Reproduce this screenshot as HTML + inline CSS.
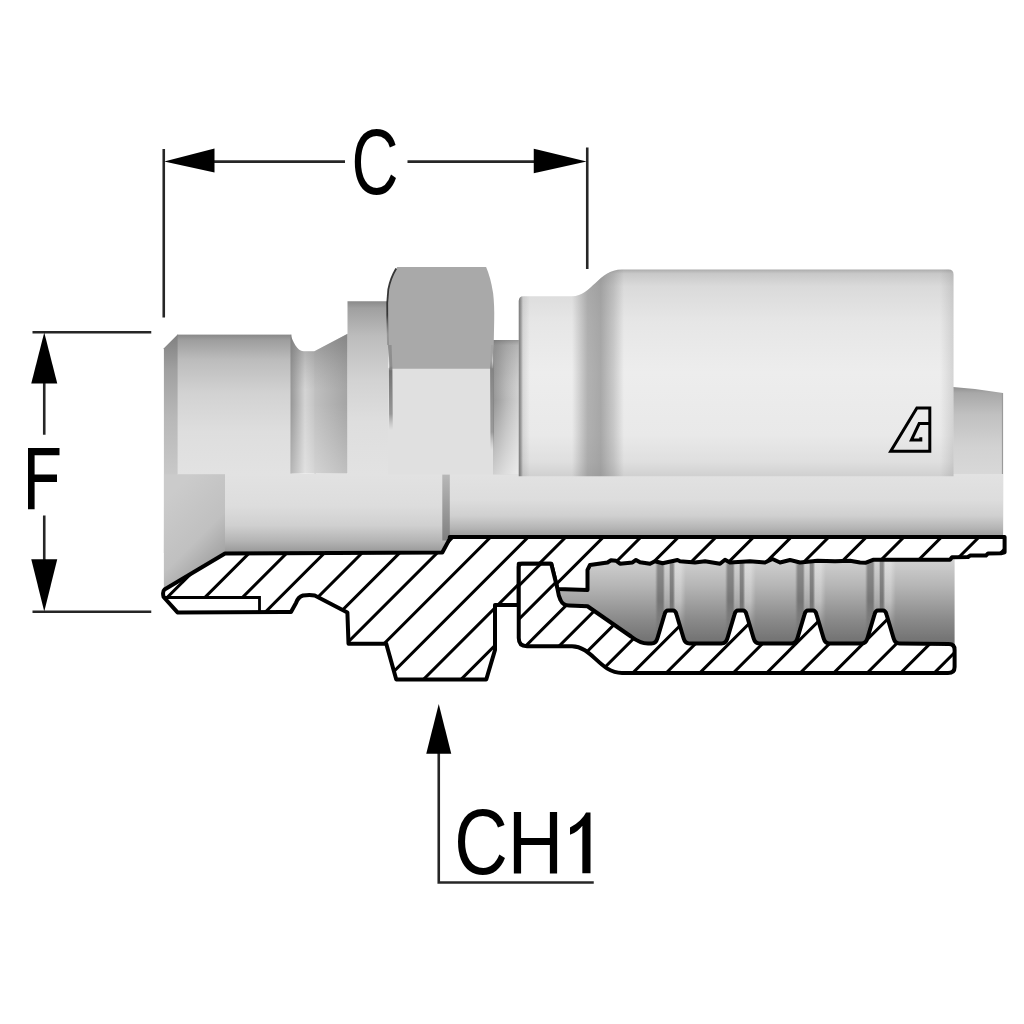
<!DOCTYPE html>
<html><head><meta charset="utf-8"><title>Fitting</title>
<style>
html,body{margin:0;padding:0;background:#fff;}
svg{display:block;font-family:"Liberation Sans",sans-serif;}
</style></head>
<body>
<svg width="1024" height="1024" viewBox="0 0 1024 1024">
<defs>
<filter id="soft" filterUnits="userSpaceOnUse" x="0" y="0" width="1024" height="1024"><feGaussianBlur stdDeviation="0.65"/></filter>
<linearGradient id="gBody" gradientUnits="userSpaceOnUse" x1="0" y1="334.60" x2="0" y2="474.00"><stop offset="0.000" stop-color="#888888"/><stop offset="0.040" stop-color="#9e9e9e"/><stop offset="0.180" stop-color="#bcbcbc"/><stop offset="0.420" stop-color="#d2d2d2"/><stop offset="0.700" stop-color="#dedede"/><stop offset="1.000" stop-color="#e2e2e2"/></linearGradient>
<linearGradient id="gCham" gradientUnits="userSpaceOnUse" x1="0" y1="334.60" x2="0" y2="474.00"><stop offset="0.000" stop-color="#808080"/><stop offset="0.250" stop-color="#a0a0a0"/><stop offset="0.600" stop-color="#b8b8b8"/><stop offset="1.000" stop-color="#c8c8c8"/></linearGradient>
<linearGradient id="gCollar" gradientUnits="userSpaceOnUse" x1="0" y1="301.25" x2="0" y2="474.00"><stop offset="0.000" stop-color="#8a8a8a"/><stop offset="0.040" stop-color="#a0a0a0"/><stop offset="0.200" stop-color="#bcbcbc"/><stop offset="0.450" stop-color="#d2d2d2"/><stop offset="0.700" stop-color="#dedede"/><stop offset="1.000" stop-color="#e2e2e2"/></linearGradient>
<linearGradient id="gGr1" gradientUnits="userSpaceOnUse" x1="291.00" y1="0" x2="314.30" y2="0"><stop offset="0.000" stop-color="#989898"/><stop offset="0.250" stop-color="#b0b0b0"/><stop offset="0.600" stop-color="#d4d4d4"/><stop offset="1.000" stop-color="#c4c4c4"/></linearGradient>
<linearGradient id="gGr2" gradientUnits="userSpaceOnUse" x1="314.30" y1="0" x2="347.50" y2="0"><stop offset="0.000" stop-color="#c0c0c0"/><stop offset="1.000" stop-color="#a4a4a4"/></linearGradient>
<linearGradient id="gLight" gradientUnits="userSpaceOnUse" x1="0" y1="334.00" x2="0" y2="474.00"><stop offset="0.000" stop-color="#606060" stop-opacity="0.450"/><stop offset="0.120" stop-color="#606060" stop-opacity="0.300"/><stop offset="0.400" stop-color="#808080" stop-opacity="0.000"/><stop offset="0.500" stop-color="#fff" stop-opacity="0.000"/><stop offset="1.000" stop-color="#fff" stop-opacity="0.300"/></linearGradient>
<linearGradient id="gBore" gradientUnits="userSpaceOnUse" x1="0" y1="474.00" x2="0" y2="553.00"><stop offset="0.000" stop-color="#e2e2e2"/><stop offset="0.400" stop-color="#dddddd"/><stop offset="0.650" stop-color="#d0d0d0"/><stop offset="0.850" stop-color="#b4b4b4"/><stop offset="1.000" stop-color="#969696"/></linearGradient>
<linearGradient id="gBore2" gradientUnits="userSpaceOnUse" x1="0" y1="474.00" x2="0" y2="538.00"><stop offset="0.000" stop-color="#e2e2e2"/><stop offset="0.400" stop-color="#dddddd"/><stop offset="0.650" stop-color="#d0d0d0"/><stop offset="0.850" stop-color="#b4b4b4"/><stop offset="1.000" stop-color="#969696"/></linearGradient>
<linearGradient id="gWall" gradientUnits="userSpaceOnUse" x1="0" y1="474.00" x2="0" y2="540.00"><stop offset="0.000" stop-color="#b8b8b8"/><stop offset="1.000" stop-color="#808080"/></linearGradient>
<linearGradient id="gCone" gradientUnits="userSpaceOnUse" x1="165" y1="500" x2="225" y2="560"><stop offset="0" stop-color="#cbcbcb"/><stop offset="0.6" stop-color="#c0c0c0"/><stop offset="1" stop-color="#9e9e9e"/></linearGradient>
<linearGradient id="gStep" gradientUnits="userSpaceOnUse" x1="493.50" y1="0" x2="519.00" y2="0"><stop offset="0.000" stop-color="#969696"/><stop offset="0.500" stop-color="#b8b8b8"/><stop offset="1.000" stop-color="#d2d2d2"/></linearGradient>
<linearGradient id="gStepV" gradientUnits="userSpaceOnUse" x1="0" y1="340.00" x2="0" y2="474.00"><stop offset="0.000" stop-color="#666" stop-opacity="0.550"/><stop offset="0.040" stop-color="#777" stop-opacity="0.300"/><stop offset="0.250" stop-color="#888" stop-opacity="0.100"/><stop offset="0.450" stop-color="#fff" stop-opacity="0.000"/><stop offset="1.000" stop-color="#fff" stop-opacity="0.550"/></linearGradient>
<linearGradient id="gFer" gradientUnits="userSpaceOnUse" x1="0" y1="269.50" x2="0" y2="476.25"><stop offset="0.000" stop-color="#acacac"/><stop offset="0.020" stop-color="#c8c8c8"/><stop offset="0.080" stop-color="#dadada"/><stop offset="0.250" stop-color="#e6e6e6"/><stop offset="0.500" stop-color="#ededed"/><stop offset="0.800" stop-color="#e9e9e9"/><stop offset="0.930" stop-color="#dfdfdf"/><stop offset="1.000" stop-color="#d0d0d0"/></linearGradient>
<linearGradient id="gFerBand" gradientUnits="userSpaceOnUse" x1="572.00" y1="0" x2="624.00" y2="0"><stop offset="0.000" stop-color="#777" stop-opacity="0.000"/><stop offset="0.300" stop-color="#777" stop-opacity="0.500"/><stop offset="0.550" stop-color="#777" stop-opacity="0.580"/><stop offset="0.800" stop-color="#777" stop-opacity="0.300"/><stop offset="1.000" stop-color="#777" stop-opacity="0.000"/></linearGradient>
<linearGradient id="gFerL" gradientUnits="userSpaceOnUse" x1="518.50" y1="0" x2="530.00" y2="0"><stop offset="0.000" stop-color="#505050" stop-opacity="0.750"/><stop offset="0.220" stop-color="#606060" stop-opacity="0.550"/><stop offset="0.400" stop-color="#888" stop-opacity="0.200"/><stop offset="1.000" stop-color="#888" stop-opacity="0.000"/></linearGradient>
<linearGradient id="gFerR" gradientUnits="userSpaceOnUse" x1="940.00" y1="0" x2="953.50" y2="0"><stop offset="0.000" stop-color="#888" stop-opacity="0.000"/><stop offset="1.000" stop-color="#888" stop-opacity="0.250"/></linearGradient>
<linearGradient id="gHose" gradientUnits="userSpaceOnUse" x1="0" y1="387.00" x2="0" y2="538.00"><stop offset="0.000" stop-color="#909090"/><stop offset="0.040" stop-color="#a8a8a8"/><stop offset="0.180" stop-color="#c0c0c0"/><stop offset="0.400" stop-color="#d2d2d2"/><stop offset="0.700" stop-color="#dcdcdc"/><stop offset="1.000" stop-color="#e0e0e0"/></linearGradient>
<linearGradient id="gCav" gradientUnits="userSpaceOnUse" x1="0" y1="560.00" x2="0" y2="645.00"><stop offset="0.000" stop-color="#d0d0d0"/><stop offset="0.300" stop-color="#b6b6b6"/><stop offset="0.700" stop-color="#8a8a8a"/><stop offset="1.000" stop-color="#6e6e6e"/></linearGradient>
<linearGradient id="gNutL" gradientUnits="userSpaceOnUse" x1="0" y1="270.00" x2="0" y2="430.00"><stop offset="0.000" stop-color="#222" stop-opacity="0.900"/><stop offset="0.280" stop-color="#2a2a2a" stop-opacity="0.900"/><stop offset="0.400" stop-color="#777" stop-opacity="0.500"/><stop offset="0.600" stop-color="#777" stop-opacity="0.550"/><stop offset="0.630" stop-color="#666" stop-opacity="0.900"/><stop offset="0.900" stop-color="#777" stop-opacity="0.700"/><stop offset="1.000" stop-color="#999" stop-opacity="0.000"/></linearGradient>
<linearGradient id="gNutR" gradientUnits="userSpaceOnUse" x1="0" y1="270.00" x2="0" y2="450.00"><stop offset="0.000" stop-color="#999" stop-opacity="0.300"/><stop offset="0.500" stop-color="#999" stop-opacity="0.400"/><stop offset="0.550" stop-color="#7a7a7a" stop-opacity="0.900"/><stop offset="0.900" stop-color="#888" stop-opacity="0.800"/><stop offset="1.000" stop-color="#aaa" stop-opacity="0.000"/></linearGradient>
<clipPath id="cFer"><path d="M518.75 301 Q518.75 296.25 523.5 296.25 L572 296.25 C592 296.25 598 269.5 622 269.5 L948.5 269.5 Q953.5 269.5 953.5 274.5 L953.5 476.25 L518.75 476.25Z"/></clipPath>
<linearGradient id="gTooth" x1="0" y1="0" x2="1" y2="0"><stop offset="0" stop-color="#484848" stop-opacity="0"/><stop offset="0.09" stop-color="#484848" stop-opacity="0"/><stop offset="0.16" stop-color="#484848" stop-opacity="0.5"/><stop offset="0.29" stop-color="#484848" stop-opacity="0.5"/><stop offset="0.36" stop-color="#fff" stop-opacity="0.1"/><stop offset="0.42" stop-color="#fff" stop-opacity="0.1"/><stop offset="0.47" stop-color="#484848" stop-opacity="0.5"/><stop offset="0.54" stop-color="#484848" stop-opacity="0.5"/><stop offset="0.60" stop-color="#fff" stop-opacity="0.32"/><stop offset="0.72" stop-color="#fff" stop-opacity="0.32"/><stop offset="0.86" stop-color="#fff" stop-opacity="0"/><stop offset="1" stop-color="#fff" stop-opacity="0"/></linearGradient>
<linearGradient id="gToothFade" gradientUnits="userSpaceOnUse" x1="0" y1="556.00" x2="0" y2="646.00"><stop offset="0.000" stop-color="#fff" stop-opacity="1.000"/><stop offset="0.500" stop-color="#fff" stop-opacity="1.000"/><stop offset="0.750" stop-color="#fff" stop-opacity="0.350"/><stop offset="1.000" stop-color="#fff" stop-opacity="0.000"/></linearGradient>
<mask id="mTooth" maskUnits="userSpaceOnUse" x="550" y="550" width="420" height="100"><rect x="550" y="550" width="420" height="100" fill="url(#gToothFade)"/></mask>
<clipPath id="cIns"><path d="M164.5 589.5 L225 553.5 L442.3 552.5 L449.8 538.6 L449.8 537 L1004.6 537 L1004.60 552.30 L1001.00 553.20 L988.00 553.60 L986.00 555.40 L970.00 555.60 L968.00 557.00 L952.00 557.20 L950.00 559.80 L873.00 559.80 L866.00 562.70 L860.00 562.45 L850.00 560.70 L835.00 561.20 L817.50 560.70 L800.00 562.45 L790.00 559.95 L780.00 562.45 L772.50 559.00 L765.00 562.45 L750.00 561.20 L730.00 562.45 L725.00 559.70 L720.00 563.70 L705.00 561.20 L695.00 562.45 L680.00 561.20 L677.50 559.95 L662.50 563.20 L655.00 561.20 L650.00 563.70 L640.00 562.20 L636.00 559.95 L632.50 562.45 L620.00 563.70 L616.00 560.70 L611.00 560.20 L607.50 562.45 L590.00 564.95 L587.50 570.00 L587.50 590.00 L557.5 589 L551.25 563.75 L518.75 563.75 L518.75 605 L495 605 L495 650 L486.25 679.5 L396.25 679.5 L386.25 643.75 L348.5 643.75 L347.4 612.5 L314.75 595.5 Q310 594.5 303 595.5 Q298 597 296 603 L291 612 L177.5 612.4 L163.6 597 Q162.2 591.5 164.5 589.5Z"/></clipPath>
<clipPath id="cFerS"><path d="M522 563.75 L551.25 563.75 L557.5 589 Q558.5 596 560.5 600 Q563 605.5 569 605.5 L587.5 606.25 L631 636.5 Q640 643.5 648 643.5 L651.50 643.5 Q656.00 643.5 657.50 638 L664.50 614.5 Q665.50 610.5 668.00 610.5 L673.00 610.5 Q675.50 610.5 676.50 614.5 L683.50 638 Q685.00 643.5 689.50 643.5 L721.50 643.5 Q726.00 643.5 727.50 638 L734.50 614.5 Q735.50 610.5 738.00 610.5 L743.00 610.5 Q745.50 610.5 746.50 614.5 L753.50 638 Q755.00 643.5 759.50 643.5 L791.50 643.5 Q796.00 643.5 797.50 638 L804.50 614.5 Q805.50 610.5 808.00 610.5 L813.00 610.5 Q815.50 610.5 816.50 614.5 L823.50 638 Q825.00 643.5 829.50 643.5 L861.50 643.5 Q866.00 643.5 867.50 638 L874.50 614.5 Q875.50 610.5 878.00 610.5 L883.00 610.5 Q885.50 610.5 886.50 614.5 L893.50 638 Q895.00 643.5 899.50 643.5 L949 644 Q954.6 644 954.6 650 L954.6 667 Q954.6 673 948 673 L622 673 C600 673 592 646.25 572 646.25 L527 646.25 Q518.75 646.25 518.75 638 L518.75 567 Q518.75 563.75 522 563.75Z"/></clipPath>
</defs>
<rect width="1024" height="1024" fill="#fff"/>
<g filter="url(#soft)">
<path d="M953 387 L975 389 L1003 393 L1003 538 L953 538Z" fill="url(#gHose)"/>
<path d="M1002.5 393V537" stroke="#9a9a9a" stroke-width="1.2"/>
<rect x="163.9" y="474" width="285" height="79" fill="url(#gBore)"/>
<rect x="446" y="474" width="557" height="64" fill="url(#gBore2)"/>
<rect x="442.3" y="474.5" width="7.5" height="66" fill="url(#gWall)"/>
<path d="M163.9 474H225V554L163.9 592Z" fill="url(#gCone)"/>
<rect x="177" y="334.6" width="114.5" height="139.6" fill="url(#gBody)"/>
<path d="M163.9 348.3L177.6 334.6V474.2H163.9Z" fill="url(#gCham)"/>
<path d="M290.5 334.6 C292.5 341 297 351.2 303.4 351.2 L316 351.2 V473.5 H290.5Z" fill="url(#gGr1)"/>
<path d="M314.3 351.2 L347.6 333.7 V473.5 H314.3Z" fill="url(#gGr2)"/>
<path d="M290.5 334.6 C292.5 341 297 351.2 303.4 351.2 L314.5 351.2 L347.6 333.7 V473.5 H290.5Z" fill="url(#gLight)"/>
<rect x="347.5" y="301.25" width="40.5" height="173" fill="url(#gCollar)"/>
<rect x="493" y="340" width="26.5" height="134.2" fill="url(#gStep)"/>
<rect x="493" y="340" width="26.5" height="134.2" fill="url(#gStepV)"/>
<rect x="388" y="368" width="105" height="106.2" fill="#e0e0e0"/>
<path d="M397.2 267 L486.1 267 Q490.5 277 493.1 293 Q494.5 305 494.2 320 L493.7 345 L491.5 368.7 L390 368.7 L387.8 345 L387.1 318 Q386.3 303 388.3 289.3 Q391 277 397.2 267Z" fill="#a9a9a9"/>
<path d="M396.2 268.5 Q390.5 278 388.3 289.3 Q386.6 303 387.3 318 L388 345" fill="none" stroke="url(#gNutL)" stroke-width="1.8"/>
<path d="M389.8 345 L390.6 368.7 L391 430" fill="none" stroke="url(#gNutL)" stroke-width="3.6"/>
<path d="M492.8 345 L491.9 368.7 L492.3 450" fill="none" stroke="url(#gNutR)" stroke-width="3.6"/>
<path d="M518.75 301 Q518.75 296.25 523.5 296.25 L572 296.25 C592 296.25 598 269.5 622 269.5 L948.5 269.5 Q953.5 269.5 953.5 274.5 L953.5 476.25 L518.75 476.25Z" fill="url(#gFer)"/>
<g clip-path="url(#cFer)"><rect x="572" y="260" width="52" height="220" fill="url(#gFerBand)"/><rect x="518" y="290" width="13" height="190" fill="url(#gFerL)"/><rect x="940" y="260" width="14" height="220" fill="url(#gFerR)"/></g>
<g fill="none" stroke="#000" stroke-width="3" stroke-linejoin="miter"><path d="M916.9 408 H929.8 V451.3 H890.7Z"/><path d="M929.8 423.6 H919.2 L911.4 440 H920.8 V437.2"/></g>
<rect x="556" y="552" width="398.6" height="96" fill="url(#gCav)"/>
<g mask="url(#mTooth)">
<rect x="651.5" y="556" width="40" height="90" fill="url(#gTooth)"/>
<rect x="721.5" y="556" width="40" height="90" fill="url(#gTooth)"/>
<rect x="791.5" y="556" width="40" height="90" fill="url(#gTooth)"/>
<rect x="861.5" y="556" width="40" height="90" fill="url(#gTooth)"/>
</g>
<path d="M164.5 589.5 L225 553.5 L442.3 552.5 L449.8 538.6 L449.8 537 L1004.6 537 L1004.60 552.30 L1001.00 553.20 L988.00 553.60 L986.00 555.40 L970.00 555.60 L968.00 557.00 L952.00 557.20 L950.00 559.80 L873.00 559.80 L866.00 562.70 L860.00 562.45 L850.00 560.70 L835.00 561.20 L817.50 560.70 L800.00 562.45 L790.00 559.95 L780.00 562.45 L772.50 559.00 L765.00 562.45 L750.00 561.20 L730.00 562.45 L725.00 559.70 L720.00 563.70 L705.00 561.20 L695.00 562.45 L680.00 561.20 L677.50 559.95 L662.50 563.20 L655.00 561.20 L650.00 563.70 L640.00 562.20 L636.00 559.95 L632.50 562.45 L620.00 563.70 L616.00 560.70 L611.00 560.20 L607.50 562.45 L590.00 564.95 L587.50 570.00 L587.50 590.00 L557.5 589 L551.25 563.75 L518.75 563.75 L518.75 605 L495 605 L495 650 L486.25 679.5 L396.25 679.5 L386.25 643.75 L348.5 643.75 L347.4 612.5 L314.75 595.5 Q310 594.5 303 595.5 Q298 597 296 603 L291 612 L177.5 612.4 L163.6 597 Q162.2 591.5 164.5 589.5Z" fill="#fff"/>
<g clip-path="url(#cIns)" stroke="#000" stroke-width="3.00" fill="none">
<path d="M-70.55 685.00L84.45 530.00"/>
<path d="M-32.98 685.00L122.02 530.00"/>
<path d="M4.59 685.00L159.59 530.00"/>
<path d="M42.16 685.00L197.16 530.00"/>
<path d="M79.73 685.00L234.73 530.00"/>
<path d="M117.30 685.00L272.30 530.00"/>
<path d="M154.87 685.00L309.87 530.00"/>
<path d="M192.44 685.00L347.44 530.00"/>
<path d="M230.01 685.00L385.01 530.00"/>
<path d="M267.58 685.00L422.58 530.00"/>
<path d="M305.15 685.00L460.15 530.00"/>
<path d="M342.72 685.00L497.72 530.00"/>
<path d="M380.29 685.00L535.29 530.00"/>
<path d="M417.86 685.00L572.86 530.00"/>
<path d="M455.43 685.00L610.43 530.00"/>
<path d="M493.00 685.00L648.00 530.00"/>
<path d="M530.57 685.00L685.57 530.00"/>
<path d="M568.14 685.00L723.14 530.00"/>
<path d="M605.71 685.00L760.71 530.00"/>
<path d="M643.28 685.00L798.28 530.00"/>
<path d="M680.85 685.00L835.85 530.00"/>
<path d="M718.42 685.00L873.42 530.00"/>
<path d="M755.99 685.00L910.99 530.00"/>
<path d="M793.56 685.00L948.56 530.00"/>
<path d="M831.13 685.00L986.13 530.00"/>
<path d="M868.70 685.00L1023.70 530.00"/>
<path d="M906.27 685.00L1061.27 530.00"/>
<path d="M943.84 685.00L1098.84 530.00"/>
<path d="M981.41 685.00L1136.41 530.00"/>
<path d="M1018.98 685.00L1173.98 530.00"/>
<path d="M1056.55 685.00L1211.55 530.00"/>
</g>
<path d="M166 597.5 H259.5 V611 H176Z" fill="#fff"/>
<path d="M165 597.5 H259.5 V611" fill="none" stroke="#000" stroke-width="2.8"/>
<path d="M164.5 589.5 L225 553.5 L442.3 552.5 L449.8 538.6 L449.8 537 L1004.6 537 L1004.60 552.30 L1001.00 553.20 L988.00 553.60 L986.00 555.40 L970.00 555.60 L968.00 557.00 L952.00 557.20 L950.00 559.80 L873.00 559.80 L866.00 562.70 L860.00 562.45 L850.00 560.70 L835.00 561.20 L817.50 560.70 L800.00 562.45 L790.00 559.95 L780.00 562.45 L772.50 559.00 L765.00 562.45 L750.00 561.20 L730.00 562.45 L725.00 559.70 L720.00 563.70 L705.00 561.20 L695.00 562.45 L680.00 561.20 L677.50 559.95 L662.50 563.20 L655.00 561.20 L650.00 563.70 L640.00 562.20 L636.00 559.95 L632.50 562.45 L620.00 563.70 L616.00 560.70 L611.00 560.20 L607.50 562.45 L590.00 564.95 L587.50 570.00 L587.50 590.00 L557.5 589 L551.25 563.75 L518.75 563.75 L518.75 605 L495 605 L495 650 L486.25 679.5 L396.25 679.5 L386.25 643.75 L348.5 643.75 L347.4 612.5 L314.75 595.5 Q310 594.5 303 595.5 Q298 597 296 603 L291 612 L177.5 612.4 L163.6 597 Q162.2 591.5 164.5 589.5Z" fill="none" stroke="#000" stroke-width="4.00" stroke-linejoin="round"/>
<path d="M522 563.75 L551.25 563.75 L557.5 589 Q558.5 596 560.5 600 Q563 605.5 569 605.5 L587.5 606.25 L631 636.5 Q640 643.5 648 643.5 L651.50 643.5 Q656.00 643.5 657.50 638 L664.50 614.5 Q665.50 610.5 668.00 610.5 L673.00 610.5 Q675.50 610.5 676.50 614.5 L683.50 638 Q685.00 643.5 689.50 643.5 L721.50 643.5 Q726.00 643.5 727.50 638 L734.50 614.5 Q735.50 610.5 738.00 610.5 L743.00 610.5 Q745.50 610.5 746.50 614.5 L753.50 638 Q755.00 643.5 759.50 643.5 L791.50 643.5 Q796.00 643.5 797.50 638 L804.50 614.5 Q805.50 610.5 808.00 610.5 L813.00 610.5 Q815.50 610.5 816.50 614.5 L823.50 638 Q825.00 643.5 829.50 643.5 L861.50 643.5 Q866.00 643.5 867.50 638 L874.50 614.5 Q875.50 610.5 878.00 610.5 L883.00 610.5 Q885.50 610.5 886.50 614.5 L893.50 638 Q895.00 643.5 899.50 643.5 L949 644 Q954.6 644 954.6 650 L954.6 667 Q954.6 673 948 673 L622 673 C600 673 592 646.25 572 646.25 L527 646.25 Q518.75 646.25 518.75 638 L518.75 567 Q518.75 563.75 522 563.75Z" fill="#fff"/>
<g clip-path="url(#cFerS)" stroke="#000" stroke-width="3.00" fill="none">
<path d="M324.20 680.00L444.20 560.00"/>
<path d="M357.70 680.00L477.70 560.00"/>
<path d="M391.20 680.00L511.20 560.00"/>
<path d="M424.70 680.00L544.70 560.00"/>
<path d="M458.20 680.00L578.20 560.00"/>
<path d="M491.70 680.00L611.70 560.00"/>
<path d="M525.20 680.00L645.20 560.00"/>
<path d="M558.70 680.00L678.70 560.00"/>
<path d="M592.20 680.00L712.20 560.00"/>
<path d="M625.70 680.00L745.70 560.00"/>
<path d="M659.20 680.00L779.20 560.00"/>
<path d="M692.70 680.00L812.70 560.00"/>
<path d="M726.20 680.00L846.20 560.00"/>
<path d="M759.70 680.00L879.70 560.00"/>
<path d="M793.20 680.00L913.20 560.00"/>
<path d="M826.70 680.00L946.70 560.00"/>
<path d="M860.20 680.00L980.20 560.00"/>
<path d="M893.70 680.00L1013.70 560.00"/>
<path d="M927.20 680.00L1047.20 560.00"/>
<path d="M960.70 680.00L1080.70 560.00"/>
<path d="M994.20 680.00L1114.20 560.00"/>
</g>
<path d="M522 563.75 L551.25 563.75 L557.5 589 Q558.5 596 560.5 600 Q563 605.5 569 605.5 L587.5 606.25 L631 636.5 Q640 643.5 648 643.5 L651.50 643.5 Q656.00 643.5 657.50 638 L664.50 614.5 Q665.50 610.5 668.00 610.5 L673.00 610.5 Q675.50 610.5 676.50 614.5 L683.50 638 Q685.00 643.5 689.50 643.5 L721.50 643.5 Q726.00 643.5 727.50 638 L734.50 614.5 Q735.50 610.5 738.00 610.5 L743.00 610.5 Q745.50 610.5 746.50 614.5 L753.50 638 Q755.00 643.5 759.50 643.5 L791.50 643.5 Q796.00 643.5 797.50 638 L804.50 614.5 Q805.50 610.5 808.00 610.5 L813.00 610.5 Q815.50 610.5 816.50 614.5 L823.50 638 Q825.00 643.5 829.50 643.5 L861.50 643.5 Q866.00 643.5 867.50 638 L874.50 614.5 Q875.50 610.5 878.00 610.5 L883.00 610.5 Q885.50 610.5 886.50 614.5 L893.50 638 Q895.00 643.5 899.50 643.5 L949 644 Q954.6 644 954.6 650 L954.6 667 Q954.6 673 948 673 L622 673 C600 673 592 646.25 572 646.25 L527 646.25 Q518.75 646.25 518.75 638 L518.75 567 Q518.75 563.75 522 563.75Z" fill="none" stroke="#000" stroke-width="4.00" stroke-linejoin="round"/>
<g stroke="#262626" stroke-width="2.6" fill="none">
<path d="M163.75 149V317.5"/><path d="M587.25 147.5V269"/>
<path d="M212 161.6H345"/><path d="M407.5 161.6H536"/>
<path d="M32.5 332.25H151.25"/><path d="M32.5 611.75H151.25"/>
<path d="M44.25 381V434.75"/><path d="M44.25 515.5V561"/>
<path d="M438.75 751V882.5H593.75"/>
</g>
<g fill="#000">
<path d="M164.2 161.4L214.5 148.6V172.6Z"/>
<path d="M586.6 161.4L533.75 148.75V173.2Z"/>
<path d="M44.25 332.5L31.25 383.5H57.25Z"/>
<path d="M44.25 611.5L31.25 559.25H57.25Z"/>
<path d="M438.75 704L426.25 753.75H451.25Z"/>
</g>
<text transform="matrix(0.6506 0 0 0.9251 351.496 193.897)" font-size="100" fill="#000">C</text>
<path d="M28 448H59.5V455.3H34.6V474.6H57V481.9H34.6V509.25H28Z" fill="#000"/>
<text transform="matrix(0.7421 0 0 0.9181 454.231 874.103)" font-size="100" fill="#000">C</text>
<text transform="matrix(0.7743 0 0 0.8830 507.399 873.250)" font-size="100" fill="#000">H</text>
<path transform="matrix(0.03796 0 0 -0.04133 561.534 873.25)" d="M763 0H548V1147Q500 1085 412.5 1023T223 930V1104Q373 1174.5 485.5 1275T645 1470H763Z" fill="#000"/>
</g>
</svg>
</body></html>
